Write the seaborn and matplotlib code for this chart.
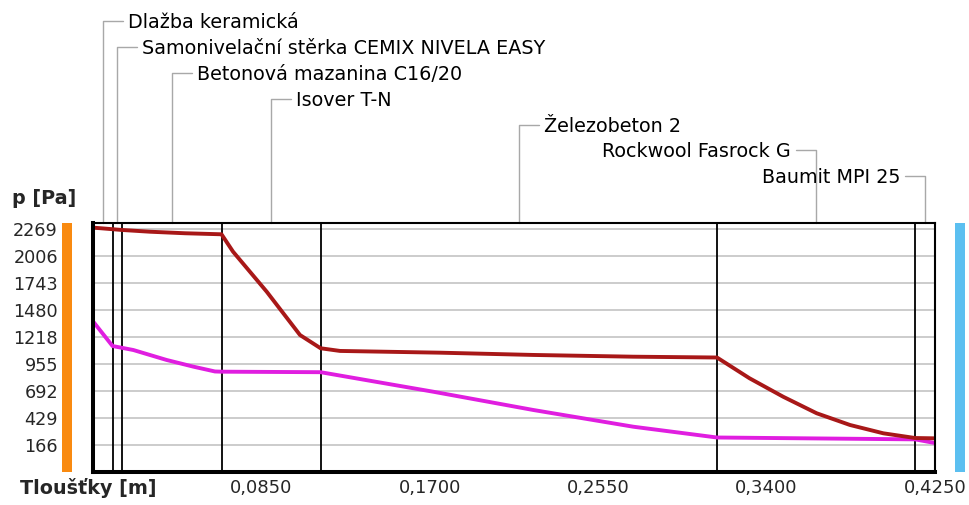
import matplotlib
matplotlib.use("Agg")
import matplotlib.pyplot as plt
import matplotlib.transforms as mtransforms
from matplotlib.patches import Rectangle
import numpy as np
import pandas as pd
import seaborn as sns

# ---------------- data ----------------
layer_names = ["Dlažba keramická", "Samonivelační stěrka CEMIX NIVELA EASY",
               "Betonová mazanina C16/20", "Isover T-N", "Železobeton 2",
               "Rockwool Fasrock G", "Baumit MPI 25"]
layer_thickness = [0.010, 0.005, 0.050, 0.050, 0.200, 0.100, 0.010]
label_side = ["right", "right", "right", "right", "right", "left", "left"]

# saturated vapour pressure (dark red)
sat_x = [0.000, 0.0052, 0.0148, 0.0289, 0.0466, 0.065, 0.0708, 0.0878, 0.1046,
         0.115, 0.1248, 0.1752, 0.2222, 0.2726, 0.315, 0.3314, 0.3484, 0.3653,
         0.3821, 0.3989, 0.415, 0.425]
sat_p = [2283, 2275, 2260, 2243, 2228, 2218, 2049, 1659, 1237,
         1108, 1082, 1065, 1043, 1026, 1018, 816, 636, 475,
         361, 280, 234, 231]

# partial vapour pressure (magenta)
par_x = [0.000, 0.010, 0.0205, 0.0373, 0.0508, 0.0617, 0.065, 0.115,
         0.1718, 0.2223, 0.2728, 0.315, 0.415, 0.425]
par_p = [1374, 1130, 1091, 994, 929, 882, 880, 875,
         685, 507, 344, 239, 221, 185]

y_ticks = [166, 429, 692, 955, 1218, 1480, 1743, 2006, 2269]
y_tick_labels = ["166", "429", "692", "955", "1218", "1480", "1743", "2006", "2269"]
x_ticks = [0.0425, 0.085, 0.1275, 0.170, 0.2125, 0.255, 0.2975, 0.340, 0.3825, 0.425]
x_tick_labels = ["", "0,0850", "", "0,1700", "", "0,2550", "", "0,3400", "", "0,4250"]

# ---------------- style ----------------
sns.set_style("white")
plt.rcParams["font.family"] = ["DejaVu Sans"]

W, H = 969, 505
fig = plt.figure(figsize=(W / 100, H / 100), dpi=100)
ax_l, ax_r, ax_t, ax_b = 92.7, 935.0, 223.3, 471.7
ax = fig.add_axes([ax_l / W, 1 - ax_b / H, (ax_r - ax_l) / W, (ax_b - ax_t) / H])

x_max = sum(layer_thickness)
ax.set_xlim(0, x_max)
ax.set_ylim(-94, 2325)

sat_df = pd.DataFrame({"x": sat_x, "p": sat_p})
par_df = pd.DataFrame({"x": par_x, "p": par_p})
sns.lineplot(data=par_df, x="x", y="p", ax=ax, color="#e01ee0", lw=2.8, zorder=4)
sns.lineplot(data=sat_df, x="x", y="p", ax=ax, color="#a81818", lw=2.8, zorder=5)

# layer boundaries
bounds = np.cumsum(layer_thickness)[:-1]
for b in bounds:
    ax.axvline(b, color="black", lw=1.3, zorder=3)

# grid / ticks
ax.set_yticks(y_ticks)
ax.set_yticklabels(y_tick_labels)
ax.yaxis.grid(True, color="#c4c4c4", lw=1.2)
ax.set_axisbelow(True)
ax.tick_params(axis="y", length=0, pad=25, labelsize=12.7)
ax.set_xticks(x_ticks)
ax.set_xticklabels(x_tick_labels)
ax.tick_params(axis="x", direction="in", length=8, width=1, color="#b4b4b4",
               pad=5, labelsize=13)
ax.set_xlabel("")
ax.set_ylabel("")
for side in ["left", "bottom"]:
    ax.spines[side].set_linewidth(2.9)
for side in ["top", "right"]:
    ax.spines[side].set_linewidth(1.5)
for s in ax.spines.values():
    s.set_color("black")
    s.set_zorder(6)

# layer labels with leader lines
blend = mtransforms.blended_transform_factory(ax.transData, ax.transAxes)
ax_h_px = ax_b - ax_t
px_to_x = x_max / (ax_r - ax_l)
label_y_px = [21, 47, 73, 99, 124.5, 150, 176]
starts = np.concatenate([[0], np.cumsum(layer_thickness)[:-1]])
for name, start, th, side, ypx in zip(layer_names, starts, layer_thickness, label_side, label_y_px):
    mid = start + th / 2
    yf = (ax_b - ypx) / ax_h_px
    sgn = 1 if side == "right" else -1
    ax.plot([mid, mid, mid + sgn * 20 * px_to_x], [1.0, yf, yf], transform=blend,
            color="#a8a8a8", lw=1, clip_on=False, zorder=1)
    ax.text(mid + sgn * 25 * px_to_x, yf - 1.5 / ax_h_px, name, transform=blend,
            ha="left" if side == "right" else "right", va="center",
            fontsize=13.8, color="black", clip_on=False)

# axis titles
fig.text(12 / W, 1 - 198 / H, "p [Pa]", fontsize=13.8, fontweight="bold",
         ha="left", va="center")
fig.text(20 / W, 1 - 488 / H, "Tloušťky [m]", fontsize=13.8, fontweight="bold",
         ha="left", va="center")

# side colour bars
fig.add_artist(Rectangle((62 / W, 1 - 472 / H), 10 / W, 249 / H,
                         transform=fig.transFigure, color="#f98a10", lw=0))
fig.add_artist(Rectangle((955 / W, 1 - 472 / H), 10 / W, 249 / H,
                         transform=fig.transFigure, color="#5bbff0", lw=0))

fig.savefig("out.png", dpi=100)
